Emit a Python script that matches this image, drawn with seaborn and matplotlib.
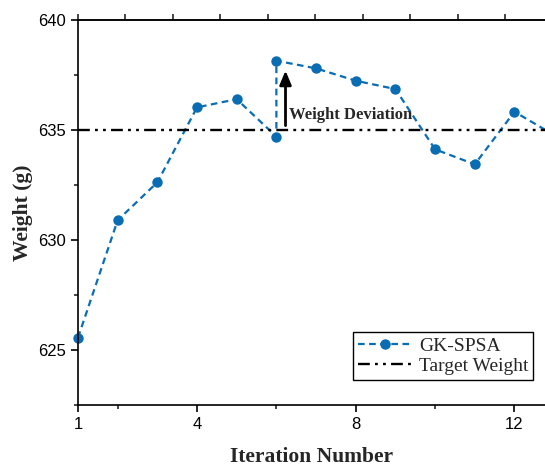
import matplotlib
matplotlib.use("Agg")
import matplotlib.pyplot as plt
import seaborn as sns
import pandas as pd
from matplotlib.ticker import FixedLocator, MultipleLocator

iterations = [1, 2, 3, 4, 5, 6, 6, 7, 8, 9, 10, 11, 12, 13]
weights = [625.56, 630.9, 632.62, 636.03, 636.4, 634.7, 638.15, 637.8,
           637.24, 636.86, 634.12, 633.44, 635.83, 634.77]
target_weight = 635.0
series_name = "GK-SPSA"
target_name = "Target Weight"
x_ticks = [1, 4, 8, 12]
x_minor = [2, 6, 10]
y_ticks = [625, 630, 635, 640]

df = pd.DataFrame({"Iteration": iterations, "Weight": weights})

sns.set_style("ticks")
plt.rcParams["font.family"] = ["Liberation Sans"]

fig = plt.figure(figsize=(5.45, 4.68), dpi=100)
ax = fig.add_axes([78/545, 1 - 405/468, (545-78)/545, (405-20)/468])

blue = "#0a6db3"
sns.lineplot(data=df, x="Iteration", y="Weight", sort=False, ax=ax,
             color=blue, linestyle=(0, (3, 2)), linewidth=1.6,
             marker="o", markersize=7.5, markeredgewidth=0,
             label=series_name, estimator=None)
for ln in ax.lines:
    ln.set_clip_on(False)
ax.axhline(target_weight, color="black", linewidth=1.7,
           linestyle=(0, (5, 2.2, 1.2, 2.2, 1.2, 2.2)), label=target_name)

ax.annotate("", xy=(6.23, 637.7), xytext=(6.23, 635.2),
            arrowprops=dict(arrowstyle="-|>,head_length=0.6,head_width=0.25",
                            color="black", lw=2.0,
                            mutation_scale=14, shrinkA=0, shrinkB=0))
ax.text(6.33, 635.3, "Weight Deviation", fontfamily="Liberation Serif",
        fontweight="bold", fontsize=12, ha="left", va="bottom")

ax.set_xlim(1, 12.77)
ax.set_ylim(622.5, 640)
ax.xaxis.set_major_locator(FixedLocator(x_ticks))
ax.xaxis.set_minor_locator(FixedLocator(x_minor))
ax.yaxis.set_major_locator(FixedLocator(y_ticks))
ax.yaxis.set_minor_locator(MultipleLocator(2.5))
ax.tick_params(which="major", direction="out", length=5, width=1.2, labelsize=12, colors="black")
ax.tick_params(which="minor", direction="out", length=3, width=1.2)

for s in ["left", "bottom", "top"]:
    ax.spines[s].set_linewidth(1.2)
    ax.spines[s].set_color("black")
ax.spines["right"].set_visible(False)

sec = ax.secondary_xaxis("top", functions=(lambda x: (x - 1) / 1.196,
                                             lambda t: t * 1.196 + 1))
sec.xaxis.set_major_locator(MultipleLocator(1))
sec.tick_params(direction="out", length=4, width=1.2, labeltop=False)
sec.spines["top"].set_linewidth(1.2)

ax.set_xlabel("Iteration Number", fontfamily="Liberation Serif",
              fontweight="bold", fontsize=15.5, labelpad=11)
ax.set_ylabel("Weight (g)", fontfamily="Liberation Serif",
              fontweight="bold", fontsize=15.5, labelpad=4)

leg = ax.legend(loc="lower right", bbox_to_anchor=(0.975, 0.065),
                prop={"family": "Liberation Serif", "size": 14},
                frameon=True, fancybox=False, edgecolor="black",
                framealpha=1, borderpad=0.25, handlelength=2.8,
                handletextpad=0.35, labelspacing=0.15, borderaxespad=0)
leg.get_frame().set_linewidth(1.0)

fig.savefig("out.png", dpi=100)
